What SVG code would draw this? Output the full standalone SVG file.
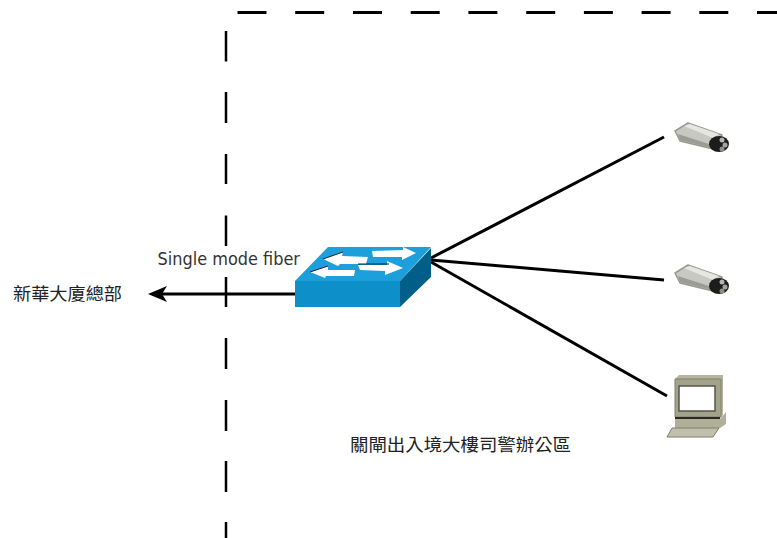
<svg xmlns="http://www.w3.org/2000/svg" width="777" height="538" viewBox="0 0 777 538">
<style>
.txt{font-family:"DejaVu Sans","Noto Sans CJK TC",sans-serif;fill:#333}
.cjk{font-family:"Noto Sans CJK TC","Noto Sans CJK SC",sans-serif;fill:#222}
.wire{stroke:#000;stroke-width:3;fill:none}
.bound{stroke:#000;fill:none}
</style>
<defs>
<filter id="soft" x="-10%" y="-10%" width="120%" height="120%"><feGaussianBlur stdDeviation="0.6"/></filter>
<marker id="head" markerUnits="userSpaceOnUse" markerWidth="22" markerHeight="20" refX="6" refY="10" orient="auto">
<path d="M1 2 L20 10 L1 18 L6 10 Z" fill="#000"/>
</marker>
<g id="cam" filter="url(#soft)">
<path d="M675 131 L688 123 L722 135 L713 149 L680 141 Z" fill="#c8c8c2" stroke="#9a9a94" stroke-width="1.500" stroke-linejoin="round"/>
<path d="M678 134 L712 145 L712 148 L680 140 Z" fill="#9c9c96"/>
<path d="M684 126 L690 124 L719 134 L713 138 Z" fill="#e6e6e1"/>
<ellipse cx="719" cy="144" rx="10" ry="8" fill="#1c1c1c"/>
<circle cx="722" cy="140" r="2.500" fill="#b5b5ae"/>
<circle cx="725" cy="145" r="2.500" fill="#a5a59e"/>
<circle cx="722" cy="149" r="2.500" fill="#8f8f88"/>
</g>
</defs>

<rect width="777" height="538" fill="#fff"/>

<g id="boundary">
<path class="bound" stroke-width="3" d="M237.500 12.500h29M295.200 12.500h29M353 12.500h29M410.700 12.500h29M468.400 12.500h29M526.200 12.500h29M583.900 12.500h29M641.600 12.500h29M699.300 12.500h29M757 12.500h20"/>
<path class="bound" stroke-width="2.500" d="M226 31v30.500M226 92v31M226 154v30M226 215.500v30.500M226 277v30M226 338v31M226 400v31M226 461v31M226 522v16"/>
</g>

<g id="connectors">
<path class="wire" d="M431 258L664 137"/>
<path class="wire" d="M431 260L664 280"/>
<path class="wire" d="M431 262L667 396"/>
<path class="wire" d="M295 294H162" marker-end="url(#head)"/>
</g>

<g id="switch" filter="url(#soft)">
<path d="M328 247H431L400 281H295Z" fill="#1e9fdb"/>
<path d="M295 281H400V307H295Z" fill="#0f8fca"/>
<path d="M400 281L431 248V277L400 307Z" fill="#005f88"/>
<path d="M323 259L343 252L342 256L368 257L366 264L340 264L338 266Z" fill="#fff"/>
<path d="M372 251L403 250L403 247L416 253L402 260L402 257L373 257Z" fill="#fff"/>
<path d="M310 272L328 266L328 270L355 270L354 276L326 276L325 278Z" fill="#fff"/>
<path d="M358 265L387 265L387 261L403 268L385 275L385 271L360 270Z" fill="#fff"/>
<path d="M343 252L323 259M358 264H389M310 272L328 266" stroke="#123" stroke-width="1" fill="none"/>
</g>

<g id="camera1"><use href="#cam"/></g>
<g id="camera2"><use href="#cam" y="142"/></g>

<g id="pc" filter="url(#soft)">
<path d="M675 379L679 375H723V415L721 417H675Z" fill="#b5b59e"/>
<path d="M675 379H721V417H675Z" fill="#a3a38c" stroke="#7e7e6c"/>
<rect x="679" y="386" width="36" height="25" fill="#fff" stroke="#55554a" stroke-width="1.500"/>
<rect x="675" y="417" width="45" height="2" fill="#2a2a22"/>
<path d="M675 419H720L726 412V424L720 428H675Z" fill="#b0b09a"/>
<path d="M672 428H719L713 437H667Z" fill="#c0c0aa" stroke="#7e7e6c"/>
</g>

<g id="labels">
<text class="txt" x="157.500" y="265" font-size="17" textLength="142.500" lengthAdjust="spacingAndGlyphs">Single mode fiber</text>
<text class="cjk" x="13" y="300" font-size="17.500" textLength="109" lengthAdjust="spacingAndGlyphs">新華大廈總部</text>
<text class="cjk" x="350" y="451" font-size="17.500" textLength="221" lengthAdjust="spacingAndGlyphs">關閘出入境大樓司警辦公區</text>
</g>
</svg>
